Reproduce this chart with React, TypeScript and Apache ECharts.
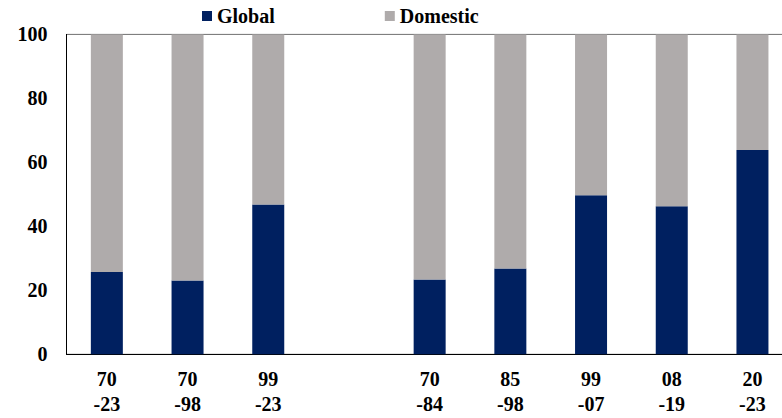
import React, { useEffect, useRef } from "react";
import * as echarts from "echarts";

const categories = ["70\n-23", "70\n-98", "99\n-23", "", "70\n-84", "85\n-98", "99\n-07", "08\n-19", "20\n-23"];
const globalShare = [25.7, 23.1, 46.8, null, 23.4, 26.8, 49.7, 46.3, 63.9];
const domesticShare = [74.3, 76.9, 53.2, null, 76.6, 73.2, 50.3, 53.7, 36.1];
const seriesNames = ["Global", "Domestic"];

const FONT = "'Liberation Serif', serif";

export default function App() {
  const ref = useRef<HTMLDivElement>(null);
  useEffect(() => {
    if (!ref.current) return;
    const chart = echarts.init(ref.current, undefined, { renderer: "svg" });
    chart.setOption({
      animation: false,
      backgroundColor: "#ffffff",
      legend: {
        data: seriesNames,
        left: 197,
        top: 1,
        itemWidth: 10,
        itemHeight: 10,
        itemGap: 110,
        icon: "rect",
        textStyle: { fontFamily: FONT, fontWeight: "bold", fontSize: 20, color: "#000" },
      },
      grid: {
        left: 66.5,
        width: 726.3,
        top: 34.4,
        height: 319.9,
        containLabel: false,
        outerBoundsMode: "none",
        show: true,
        borderColor: "#707070",
        borderWidth: 1,
      },
      xAxis: {
        type: "category",
        data: categories,
        axisLine: { show: true, lineStyle: { color: "#000", width: 1 } },
        axisTick: { show: false },
        axisLabel: {
          interval: 0,
          margin: 12,
          fontFamily: FONT,
          fontWeight: "bold",
          fontSize: 20,
          lineHeight: 25,
          color: "#000",
        },
        splitLine: { show: false },
      },
      yAxis: {
        type: "value",
        min: 0,
        max: 100,
        interval: 20,
        axisLine: { show: true, lineStyle: { color: "#000", width: 1 } },
        axisTick: { show: false },
        splitLine: { show: false },
        axisLabel: {
          margin: 19,
          fontFamily: FONT,
          fontWeight: "bold",
          fontSize: 20,
          color: "#000",
        },
      },
      series: [
        {
          name: seriesNames[0],
          type: "bar",
          stack: "total",
          data: globalShare,
          barWidth: 32,
          itemStyle: { color: "#002060" },
        },
        {
          name: seriesNames[1],
          type: "bar",
          stack: "total",
          data: domesticShare,
          barWidth: 32,
          itemStyle: { color: "#AFABAB" },
        },
      ],
    });
    return () => chart.dispose();
  }, []);
  return (
    <div
      ref={ref}
      style={{ position: "fixed", left: 0, top: 0, width: 782, height: 418 }}
    />
  );
}
